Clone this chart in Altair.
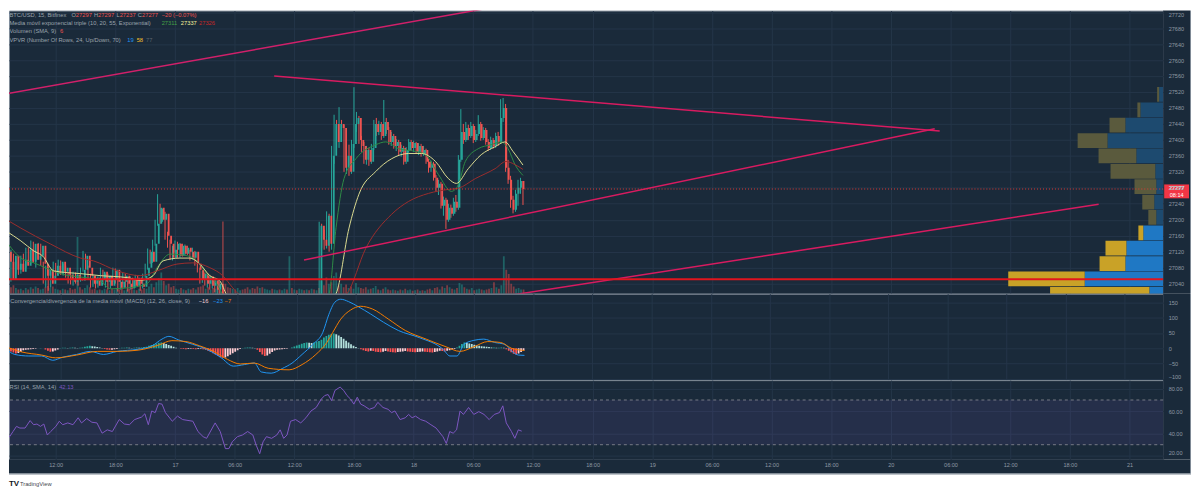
import altair as alt
import pandas as pd
import numpy as np

# ---------------------------------------------------------------- data
BASE = "2023-05-16T00:00:00Z"
CANDLE_START = "2023-05-16T07:00:00Z"   # 15-minute candles
FIRST_OPEN = 27120

close = [27095, 27050, 27110, 27075, 27090, 27070, 27100, 27085, 27125, 27095,
         27140, 27100, 27110, 27135, 27090, 27060, 27075, 27040, 27060, 27085,
         27065, 27095, 27070, 27080, 27062, 27050, 27045, 27062, 27050, 27048,
         27075, 27110, 27080, 27060, 27040, 27055, 27035, 27050, 27070, 27045,
         27060, 27035, 27050, 27075, 27045, 27030, 27045, 27060, 27040, 27028,
         27050, 27035, 27055, 27040, 27032, 27060, 27080, 27120, 27095, 27140,
         27190, 27230, 27200, 27215, 27160, 27140, 27105, 27125, 27140, 27110,
         27135, 27115, 27130, 27120, 27105, 27120, 27090, 27075, 27050, 27065,
         27040, 27058, 27035, 27048, 27025, 27040, 26995, 26975, 26960, 26940,
         26955, 26930, 26945, 26960, 26950, 26935, 26915, 26930, 26920, 26905,
         26890, 26900, 26880, 26895, 26915, 26925, 26918, 26935, 26945, 26930,
         26950, 26958, 26945, 26965, 26955, 26975, 26960, 26970, 26985, 26975,
         26990, 26980, 26995, 26985, 26992, 26990, 27185, 27150, 27135, 27210,
         27140, 27360, 27440, 27395, 27440, 27430, 27330, 27360, 27320, 27390,
         27440, 27455, 27400, 27385, 27350, 27375, 27345, 27380, 27440, 27420,
         27440, 27410, 27445, 27425, 27395, 27410, 27385, 27395, 27370, 27380,
         27345, 27375, 27395, 27380, 27392, 27370, 27385, 27365, 27375, 27345,
         27330, 27340, 27305, 27280, 27290, 27235, 27250, 27200, 27230, 27215,
         27245, 27230, 27350, 27420, 27400, 27430, 27410, 27435, 27400, 27415,
         27440, 27405, 27425, 27395, 27380, 27400, 27385, 27410, 27395, 27455,
         27480, 27330, 27300, 27250, 27225, 27265, 27280, 27297, 27277]
high = [27130, 27100, 27125, 27115, 27100, 27095, 27110, 27115, 27130, 27130,
        27148, 27145, 27120, 27142, 27140, 27095, 27085, 27080, 27070, 27095,
        27092, 27100, 27098, 27090, 27085, 27068, 27065, 27070, 27068, 27062,
        27080, 27122, 27115, 27085, 27065, 27062, 27060, 27058, 27080, 27075,
        27065, 27065, 27060, 27080, 27078, 27050, 27052, 27068, 27065, 27048,
        27058, 27055, 27062, 27060, 27048, 27065, 27090, 27128, 27125, 27150,
        27200, 27264, 27240, 27228, 27220, 27170, 27150, 27135, 27148, 27145,
        27142, 27140, 27138, 27135, 27125, 27130, 27122, 27095, 27080, 27072,
        27068, 27065, 27062, 27055, 27050, 27048, 27045, 27000, 26985, 26965,
        26962, 26958, 26952, 26968, 26965, 26955, 26940, 26938, 26935, 26925,
        26910, 26908, 26905, 26902, 26922, 26935, 26930, 26945, 26955, 26950,
        26958, 26965, 26962, 26972, 26970, 26982, 26980, 26978, 26992, 26990,
        26998, 26995, 27002, 27000, 27002, 27000, 27195, 27190, 27175, 27221,
        27215, 27385, 27463, 27450, 27482, 27450, 27438, 27375, 27388, 27400,
        27532, 27470, 27460, 27410, 27395, 27385, 27380, 27390, 27450, 27455,
        27448, 27445, 27500, 27455, 27432, 27420, 27415, 27402, 27400, 27388,
        27385, 27382, 27402, 27400, 27398, 27395, 27392, 27390, 27385, 27378,
        27352, 27348, 27345, 27312, 27300, 27295, 27258, 27255, 27240, 27238,
        27255, 27262, 27362, 27477, 27440, 27445, 27438, 27445, 27440, 27425,
        27462, 27445, 27432, 27430, 27402, 27408, 27405, 27418, 27420, 27502,
        27505, 27490, 27350, 27310, 27260, 27275, 27300, 27305, 27297]
low = [27080, 27040, 27045, 27060, 27065, 27062, 27065, 27078, 27080, 27088,
       27090, 27092, 27080, 27100, 27085, 27040, 27030, 27022, 27030, 27050,
       27058, 27060, 27062, 27060, 27055, 27040, 27038, 27035, 27040, 27035,
       27045, 27070, 27075, 27050, 27030, 27032, 27028, 27030, 27045, 27038,
       27030, 27025, 27028, 27045, 27040, 27020, 27025, 27040, 27030, 27020,
       27025, 27028, 27030, 27032, 27022, 27028, 27055, 27075, 27090, 27092,
       27135, 27185, 27190, 27195, 27150, 27130, 27100, 27098, 27118, 27105,
       27105, 27108, 27110, 27112, 27098, 27100, 27085, 27068, 27040, 27042,
       27035, 27030, 27025, 27028, 27018, 27010, 26985, 26960, 26950, 26930,
       26935, 26920, 26925, 26940, 26942, 26925, 26905, 26910, 26912, 26895,
       26880, 26885, 26870, 26875, 26890, 26910, 26905, 26912, 26928, 26925,
       26925, 26940, 26938, 26940, 26948, 26950, 26952, 26955, 26962, 26968,
       26970, 26972, 26975, 26978, 26980, 26975, 26985, 27130, 27125, 27128,
       27120, 27125, 27340, 27380, 27380, 27395, 27320, 27315, 27310, 27315,
       27380, 27420, 27390, 27370, 27340, 27338, 27335, 27340, 27375, 27410,
       27412, 27400, 27405, 27415, 27388, 27385, 27378, 27372, 27362, 27358,
       27338, 27340, 27368, 27372, 27370, 27365, 27362, 27358, 27360, 27340,
       27318, 27320, 27298, 27270, 27262, 27228, 27210, 27177, 27195, 27205,
       27210, 27220, 27225, 27345, 27390, 27395, 27400, 27405, 27392, 27395,
       27410, 27398, 27400, 27388, 27372, 27375, 27378, 27380, 27385, 27390,
       27445, 27320, 27290, 27230, 27216, 27220, 27235, 27265, 27237]
volume = [9, 12, 8, 6, 7, 5, 8, 6, 9, 7,
          10, 8, 6, 7, 9, 11, 8, 10, 7, 6,
          5, 7, 6, 5, 8, 6, 7, 80, 9, 6,
          8, 12, 9, 6, 7, 5, 6, 5, 7, 6,
          5, 7, 6, 8, 6, 9, 5, 6, 7, 8,
          6, 5, 7, 6, 8, 7, 10, 14, 9, 16,
          22, 30, 18, 12, 14, 9, 11, 7, 6, 8,
          6, 5, 7, 6, 8, 6, 9, 10, 12, 7,
          9, 6, 8, 7, 10, 12, 102, 14, 9, 8,
          7, 6, 8, 5, 6, 7, 9, 6, 8, 7,
          10, 8, 9, 7, 6, 5, 7, 6, 5, 6,
          5, 7, 6, 53, 8, 6, 5, 7, 6, 5,
          6, 5, 7, 6, 5, 8, 18, 12, 23, 14,
          16, 25, 30, 12, 14, 9, 13, 8, 10, 7,
          15, 9, 8, 7, 9, 6, 7, 8, 11, 6,
          5, 7, 9, 6, 5, 6, 5, 4, 6, 5,
          7, 5, 6, 4, 5, 6, 4, 5, 4, 6,
          7, 5, 8, 9, 6, 10, 8, 12, 9, 7,
          6, 8, 15, 13, 9, 7, 6, 8, 5, 6,
          7, 6, 5, 6, 7, 8, 16, 9, 7, 12,
          53, 34, 28, 14, 10, 7, 8, 6, 6]
macd_hist = [-10, -14, -17, -15, -12, -6, -5, -4, -3, -2,
             -1, 0, 1, 0, -4, -8, -11, -10, -7, -4,
             1, 2, 2, 1, 2, 3, 2, 1, 2, 3,
             5, 7, 8, 7, 6, 4, 3, 1, -2, -4,
             -5, -5, -3, -2, 1, 2, 2, 3, 2, 1,
             2, 3, 2, 3, 4, 5, 8, 11, 13, 16,
             18, 19, 17, 14, 11, 8, 5, 2, 0, -1,
             -2, -3, -2, -1, -2, -3, -2, -1, -3, -5,
             -8, -12, -16, -20, -25, -29, -31, -30, -26, -21,
             -16, -11, -6, -2, 1, 2, 3, 3, 2, 1,
             -5, -12, -20, -25, -23, -18, -12, -7, -5, -4,
             -3, -2, -1, 0, 3, 6, 9, 12, 15, 17,
             19, 18, 17, 19, 22, 24, 28, 35, 40, 44,
             47, 48, 46, 42, 37, 31, 25, 19, 13, 8,
             4, 1, -3, -6, -9, -10, -8, -9, -11, -12,
             -13, -11, -9, -10, -12, -13, -14, -12, -11, -10,
             -9, -10, -11, -12, -13, -12, -11, -10, -11, -12,
             -13, -14, -12, -10, -8, -9, -10, -8, -6, -4,
             -2, 3, 8, 14, 19, 18, 16, 14, 12, 10,
             8, 7, 6, 5, 4, 3, 3, 2, 2, 3,
             2, -3, -8, -13, -18, -20, -17, -12, -7]

# moving averages (hours after 16 May 00:00, price)
ema10_h = [7.0, 8.5, 9.8, 12.5, 16.5, 17.5, 19.5, 21.2, 22.2, 23.5, 25.2, 26.2, 27.2, 28.2, 28.8,
           30.5, 33.5, 36.5, 38.5, 39.5, 40.2, 41.0, 42.2, 44.2, 45.2, 46.5, 48.2, 49.2, 50.5,
           51.8, 52.5, 53.2, 54.5, 55.8, 56.8, 57.5, 58.2, 59.0]
ema10_v = [27147, 27104, 27092, 27065, 27047, 27027, 27030, 27040, 27080, 27114, 27110, 27097, 27065, 27040, 27012,
           26960, 26915, 26950, 26980, 27015, 27180, 27303, 27353, 27388, 27395, 27378, 27371, 27363, 27313,
           27271, 27288, 27346, 27378, 27388, 27395, 27378, 27338, 27311]
ema20_h = [7.0, 8.5, 9.8, 10.7, 11.8, 14.5, 16.5, 19.2, 20.5, 21.8, 22.8, 24.5, 25.5, 26.5, 27.5, 28.5,
           29.2, 31.0, 34.0, 37.0, 39.0, 40.2, 41.5, 42.5, 44.2, 45.8, 47.5, 48.8, 50.2, 51.5, 52.3,
           53.5, 54.8, 56.2, 57.2, 58.0, 59.0]
ema20_v = [27172, 27147, 27122, 27109, 27072, 27065, 27060, 27055, 27048, 27060, 27097, 27104, 27104, 27089, 27060, 27047,
           27012, 26975, 26940, 26955, 26985, 27015, 27179, 27264, 27321, 27353, 27366, 27366, 27346, 27303, 27291,
           27328, 27363, 27383, 27395, 27371, 27337]
ema55_h = [7.0, 8.5, 11.5, 14.5, 15.8, 18.2, 20.5, 22.2, 24.2, 25.8, 27.5, 28.8, 29.8, 30.5, 33.0, 37.0,
           40.0, 41.3, 43.2, 45.8, 47.5, 49.5, 51.5, 52.5, 54.2, 56.2, 57.3, 58.2, 59.0]
ema55_v = [27201, 27179, 27139, 27104, 27097, 27072, 27060, 27072, 27089, 27092, 27080, 27060, 27030, 27012, 26990, 26985,
           26995, 27015, 27129, 27214, 27246, 27266, 27276, 27279, 27303, 27328, 27346, 27338, 27326]

macd_h = [7.0, 7.9, 9.3, 10.6, 11.7, 12.7, 14.1, 15.5, 16.8, 18.19, 20.29, 21.69, 22.69, 23.39, 24.39, 25.79,
          27.18, 28.58, 29.88, 30.98, 31.98, 32.68, 33.68, 34.78, 35.78, 36.78, 37.87, 38.87, 39.47, 40.07,
          40.67, 41.47, 42.47, 43.67, 44.97, 46.47, 48.56, 50.96, 51.66, 52.36, 53.06, 54.06, 55.06, 56.16,
          57.16, 57.86, 58.55, 59.15]
macd_v = [-3, -20, -25, -25, -39, -29, -20, -10, -20, -10, -3, 8, 30, 39, 27, 13,
          -3, -29, -58, -53, -48, -77, -81, -66, -48, -20, 13, 52, 110, 150,
          160, 152, 135, 112, 85, 58, 35, -3, -25, -25, 13, 26, 30, 19,
          13, -9, -22, -23]
signal_h = [7.0, 8.6, 10.6, 12.0, 14.1, 16.2, 18.19, 20.29, 22.39, 23.69, 25.09, 26.49, 27.88, 29.28, 30.58,
            31.98, 33.38, 35.48, 36.78, 38.17, 39.27, 39.87, 40.67, 41.67, 42.67, 43.87, 45.47, 47.17, 49.26,
            51.26, 52.66, 54.06, 55.46, 56.76, 57.86, 59.15]
signal_v = [5, -12, -22, -31, -22, -10, -10, -6, 11, 25, 22, 8, -10, -36, -51,
            -48, -65, -70, -53, -20, 19, 52, 95, 125, 137, 128, 95, 58, 30,
            5, -10, 5, 22, 19, 0, -7]

rsi_h = [7.02, 7.37, 7.71, 8.06, 8.40, 8.92, 9.43, 9.78, 10.12, 10.47, 10.81, 11.16, 11.50, 12.02, 12.36,
         12.71, 13.22, 13.74, 14.26, 14.60, 15.12, 15.64, 16.15, 16.67, 17.19, 17.70, 18.39, 18.91, 19.42,
         19.94, 20.63, 20.97, 21.32, 21.66, 22.01, 22.35, 22.70, 23.04, 23.73, 24.25, 24.77, 25.80, 26.31,
         26.83, 27.18, 28.04, 28.55, 29.07, 29.42, 29.76, 30.28, 30.79, 31.31, 31.83, 32.17, 32.52, 32.86,
         33.20, 33.72, 34.24, 34.58, 34.93, 35.27, 35.62, 36.13, 36.65, 37.17, 37.68, 38.20, 38.72, 39.06,
         39.40, 39.75, 40.09, 40.61, 40.96, 41.30, 41.65, 41.99, 42.33, 42.68, 43.02, 43.54, 44.06, 44.40,
         44.92, 45.43, 45.78, 46.12, 46.64, 47.16, 47.50, 47.85, 48.19, 48.71, 49.22, 49.74, 50.26, 50.95,
         51.29, 51.63, 51.98, 52.32, 52.67, 53.01, 53.53, 54.05, 54.56, 55.08, 55.60, 56.11, 56.63, 56.97,
         57.32, 57.84, 58.18, 58.53, 58.87]
rsi_v = [40.3, 37.2, 41.8, 46.4, 44.9, 44.9, 51.6, 47.9, 48.5, 46.4, 48.5, 38.7, 41.8, 46.4, 51.0,
         47.9, 49.5, 47.9, 54.1, 49.5, 53.4, 50.1, 49.5, 40.3, 43.3, 41.8, 52.5, 48.5, 47.9,
         52.5, 54.7, 57.7, 47.9, 60.2, 58.7, 66.9, 66.3, 58.7, 51.0, 55.6, 52.5, 51.0, 41.8,
         37.2, 35.7, 49.5, 41.8, 26.5, 26.5, 32.6, 37.2, 38.7, 41.8, 38.7, 29.5, 21.9, 32.6,
         37.2, 35.7, 38.7, 43.3, 35.7, 38.7, 51.0, 52.5, 49.5, 54.1, 60.2, 63.3, 70.9, 74.0,
         74.9, 69.4, 78.6, 81.6, 78.6, 74.0, 70.9, 66.3, 72.5, 66.3, 64.8, 61.7, 63.3, 67.9,
         63.3, 61.7, 58.7, 60.2, 52.5, 54.1, 57.1, 54.1, 55.6, 52.5, 51.0, 47.9, 44.9, 37.2,
         31.1, 41.8, 40.3, 43.3, 60.2, 57.1, 63.3, 57.1, 59.6, 57.1, 52.5, 57.1, 58.7, 64.8,
         49.5, 41.8, 35.7, 43.3, 42.13]

# visible volume profile rows (price of row bottom, up volume, down volume)
vp_row_low = [26994, 27032.5, 27071, 27109.5, 27148, 27186.5, 27225, 27263.5, 27302, 27340.5,
              27379, 27417.5, 27456, 27494.5]
vp_row_size = 38.5
vp_up = [9.6, 54.4, 26.2, 25.5, 13.8, 4.8, 6.2, 4.8, 5.5, 18.6, 38.6, 26.2, 15.8, 2.8]
vp_down = [68.8, 53.0, 17.9, 14.5, 3.4, 5.5, 8.3, 15.1, 31.0, 26.2, 20.7, 11.0, 2.1, 1.4]
vp_value_area = [1, 1, 1, 1, 1, 0, 0, 0, 0, 0, 0, 0, 0, 0]

# drawings: trend lines (hours after 16 May 00:00, price)
trend_id = ["upper", "upper", "lower", "lower", "channel", "channel", "support", "support"]
trend_h = [33.98, 100.91, 36.98, 100.41, 7.0, 58.45, 56.46, 116.9]
trend_p = [27560, 27422, 27099, 27428, 27515, 27743, 27006, 27239]
hline_price = 27051
last_price = 27277

tick_hours = [12, 18, 24, 30, 36, 42, 48, 54, 60, 66, 72, 78, 84, 90, 96, 102, 108, 114, 120]
price_ticks = [27040, 27080, 27120, 27160, 27200, 27240, 27280, 27320, 27360, 27400, 27440,
               27480, 27520, 27560, 27600, 27640, 27680, 27720]
macd_ticks = [-100, -50, 0, 50, 100, 150]
rsi_ticks = [20, 40, 60, 80]

# ---------------------------------------------------------------- style
FONT = "Liberation Sans"
BG = "#1a2a3a"
GRID = "#243549"
BORDER = "#7f8a96"
OUTER = "#7d8894"
AXT = "#8e99a4"
LEG = "#9aa4ae"
UP = "#26a69a"
DOWN = "#ef5350"
FS = 5.8
W, H1, H2, H3 = 1162, 285, 87, 80
AXW = 27

base_ts = pd.Timestamp(BASE)


def ms(h):
    return int((base_ts + pd.Timedelta(hours=h)).value // 10**6)


def iso(hs):
    return list((base_ts + pd.to_timedelta(np.asarray(hs, dtype=float), unit="h")).strftime("%Y-%m-%dT%H:%M:%SZ"))


T0, T1 = 7.305, 123.39
XS = alt.Scale(type="utc", domain=[ms(T0), ms(T1)])
PS = alt.Scale(domain=[27014.8, 27723.8], nice=False, zero=False)
MS = alt.Scale(domain=[-103.6, 178], nice=False, zero=False)
RS = alt.Scale(domain=[16.7, 87.8], nice=False, zero=False)
tick_ms = [ms(h) for h in tick_hours]

n = len(close)
t = pd.date_range(CANDLE_START, periods=n, freq="15min")
opens = [FIRST_OPEN] + close[:-1]
cdf = pd.DataFrame({"t": t.strftime("%Y-%m-%dT%H:%M:%SZ"), "open": opens, "close": close,
                    "high": high, "low": low, "vol": volume, "hist": macd_hist})
cdf["col"] = np.where(cdf["close"] >= cdf["open"], UP, DOWN)
prev = [0] + macd_hist[:-1]
hcol = []
for hv, pv in zip(macd_hist, prev):
    if hv >= 0:
        hcol.append("#26a69a" if hv >= pv else "#b2dfdb")
    else:
        hcol.append("#ff5252" if hv < pv else "#ffcdd2")
cdf["hcol"] = hcol

ema_df = pd.concat([
    pd.DataFrame({"t": iso(ema10_h), "v": ema10_v, "s": "ema10", "c": "#2e8b47"}),
    pd.DataFrame({"t": iso(ema20_h), "v": ema20_v, "s": "ema20", "c": "#dcdc91"}),
    pd.DataFrame({"t": iso(ema55_h), "v": ema55_v, "s": "ema55", "c": "#9b2d2d"}),
])
macd_df = pd.concat([
    pd.DataFrame({"t": iso(macd_h), "v": macd_v, "s": "macd", "c": "#2196f3"}),
    pd.DataFrame({"t": iso(signal_h), "v": signal_v, "s": "signal", "c": "#f57c00"}),
])
rsi_df = pd.DataFrame({"t": iso(rsi_h), "v": rsi_v})

vp_rows = []
for lo, up, dn, va in zip(vp_row_low, vp_up, vp_down, vp_value_area):
    vp_rows.append({"lo": lo + 0.8, "hi": lo + vp_row_size - 0.8, "a": 0, "b": up,
                    "c": "#1f78c4" if va else "#1d4a6f"})
    vp_rows.append({"lo": lo + 0.8, "hi": lo + vp_row_size - 0.8, "a": up, "b": up + dn,
                    "c": "#c9a227" if va else "#5a5a3d"})
vp_df = pd.DataFrame(vp_rows)

trend_df = pd.DataFrame({"id": trend_id, "t": iso(trend_h), "p": trend_p})
trend_df["c"] = np.where(trend_df["id"] == "channel", "#d1206a", "#d81b60")
hl_df = pd.DataFrame({"t": iso([T0, T1]), "p": [hline_price, hline_price]})
lp_df = pd.DataFrame({"t": iso([T0, T1]), "p": [last_price, last_price]})
band_df = pd.DataFrame({"t": iso([T0]), "t2": iso([T1]), "lo": [30], "hi": [70]})
lvl_df = pd.DataFrame({"v": [70, 30]})

ONE = alt.Data(values=[{"a": 1}])

# ---------------------------------------------------------------- axes
grid_x = alt.Axis(orient="top", values=tick_ms, grid=True, gridColor=GRID, gridWidth=1, labels=False,
                  ticks=False, domain=False, title=None, minExtent=0, maxExtent=0, zindex=0)


def grid_y(vals):
    return alt.Axis(orient="left", values=vals, grid=True, gridColor=GRID, gridWidth=1, labels=False,
                    ticks=False, domain=False, title=None, minExtent=0, maxExtent=0, zindex=0)


def label_y(vals, fmt):
    return alt.Axis(orient="right", values=vals, format=fmt, grid=False, ticks=False, domain=False,
                    labelColor=AXT, labelFontSize=5.6, labelFont=FONT, labelPadding=5, title=None,
                    zindex=1, labelFlush=4, labelOverlap=False, minExtent=0)


label_x = alt.Axis(orient="bottom", values=tick_ms, grid=False, ticks=False, domain=False,
                   labelColor=AXT, labelFontSize=5.6, labelFont=FONT, labelPadding=3, title=None,
                   zindex=1, labelFlush=False, labelOverlap=False,
                   labelExpr="utcFormat(datum.value, '%H:%M') == '00:00' ? utcFormat(datum.value, '%-d') : utcFormat(datum.value, '%H:%M')")


def txt(s, x, y, color, size=FS, weight="normal", align="left"):
    return alt.Chart(ONE).mark_text(text=s, align=align, baseline="middle", fontSize=size, font=FONT,
                                    color=color, fontWeight=weight).encode(x=alt.value(x), y=alt.value(y))


def box(x, x2, y, y2, color):
    return alt.Chart(ONE).mark_rect(color=color).encode(
        x=alt.value(x), x2=alt.value(x2), y=alt.value(y), y2=alt.value(y2))


XT = lambda ax=None: alt.X("t:T", scale=XS, axis=ax)
NOC = lambda f: alt.Color(f, scale=None)

# ---------------------------------------------------------------- main panel
axis_bg1 = box(W, W + AXW, 0, H1, BG)
edge1 = box(W + AXW, W + AXW + 1, 0, H1, OUTER)
vpvr = alt.Chart(vp_df).mark_rect(clip=True).encode(
    x=alt.X("a:Q", scale=alt.Scale(domain=[0, 800], reverse=True), axis=None), x2="b:Q",
    y=alt.Y("lo:Q", scale=PS, axis=None), y2="hi:Q", color=NOC("c:N"))
vol = alt.Chart(cdf).mark_bar(size=1.8, opacity=0.45, clip=True).encode(
    x=XT(), y=alt.Y("vol:Q", scale=alt.Scale(domain=[0, 400]), axis=None), color=NOC("col:N"))
wick = alt.Chart(cdf).mark_rule(strokeWidth=1, clip=True).encode(
    x=XT(grid_x), y=alt.Y("low:Q", scale=PS, axis=grid_y(price_ticks)), y2="high:Q", color=NOC("col:N"))
body = alt.Chart(cdf).mark_bar(size=1.8, clip=True).encode(
    x=XT(), y=alt.Y("open:Q", scale=PS, axis=None), y2="close:Q", color=NOC("col:N"))
emas = alt.Chart(ema_df).mark_line(strokeWidth=1, clip=True, interpolate="monotone").encode(
    x=XT(), y=alt.Y("v:Q", scale=PS, axis=label_y(price_ticks, "d")), detail="s:N", color=NOC("c:N"))
trends = alt.Chart(trend_df).mark_line(strokeWidth=1.5, clip=True).encode(
    x=XT(), y=alt.Y("p:Q", scale=PS, axis=None), detail="id:N", color=NOC("c:N"))
hline = alt.Chart(hl_df).mark_line(strokeWidth=2, color="#e0161e", clip=True).encode(
    x=XT(), y=alt.Y("p:Q", scale=PS, axis=None))
pline = alt.Chart(lp_df).mark_line(strokeWidth=1, color="#e53935", strokeDash=[1, 2], clip=True).encode(
    x=XT(), y=alt.Y("p:Q", scale=PS, axis=None))
plabel = [box(W + 1, W + 26, 175, 189, "#f23645"),
          txt("27277", W + 13.5, 178.8, "#ffffff", 5.6, "bold", "center"),
          txt("08:14", W + 13.5, 185.6, "#ffffff", 5.6, "normal", "center")]
Y1, Y2, Y3, Y4 = 4.3, 12.7, 21, 29.3
legend1 = [
    txt("BTC/USD, 15, Bitfinex", 0.5, Y1, LEG),
    txt("O", 63, Y1, LEG), txt("27297", 67.3, Y1, DOWN),
    txt("H", 85.5, Y1, LEG), txt("27297", 89.7, Y1, DOWN),
    txt("L", 108.2, Y1, LEG), txt("27237", 111.4, Y1, DOWN),
    txt("C", 129.7, Y1, LEG), txt("27277", 133.9, Y1, DOWN),
    txt("\u221220 (\u22120.07%)", 153.7, Y1, DOWN),
    txt("Media m\u00f3vil exponencial triple (10, 20, 55, Exponential)", 0.5, Y2, LEG),
    txt("27311", 153.7, Y2, "#43a047"), txt("27337", 173, Y2, "#f4f29c"),
    txt("27326", 191.3, Y2, "#c62828"),
    txt("Volumen (SMA, 9)", 0.5, Y3, LEG), txt("6", 51.3, Y3, DOWN),
    txt("VPVR (Number Of Rows, 24, Up/Down, 70)", 0.5, Y4, LEG),
    txt("19", 119, Y4, "#2196f3"), txt("58", 128.5, Y4, "#fbc02d"), txt("77", 138, Y4, "#5c6670"),
]
main = alt.layer(axis_bg1, edge1, vol, vpvr, wick, body, emas, trends, hline, pline,
                 *plabel, *legend1).resolve_scale(
    x="independent", y="independent").properties(width=W, height=H1)

# ---------------------------------------------------------------- MACD panel
axis_bg2 = box(W, W + AXW, 0, H2, BG)
edge2 = box(W + AXW, W + AXW + 1, 0, H2, OUTER)
hist = alt.Chart(cdf).mark_bar(size=1.8, clip=True).encode(
    x=XT(grid_x), y=alt.Y("hist:Q", scale=MS, axis=grid_y(macd_ticks)), color=NOC("hcol:N"))
mlines = alt.Chart(macd_df).mark_line(strokeWidth=1, clip=True, interpolate="monotone").encode(
    x=XT(), y=alt.Y("v:Q", scale=MS, axis=label_y(macd_ticks, "d")), detail="s:N", color=NOC("c:N"))
legend2 = [
    txt("Convergencia/divergencia de la media m\u00f3vil (MACD) (12, 26, close, 9)", 1.3, 7, LEG),
    txt("\u221216", 191, 7, "#f3d0d4"), txt("\u221223", 205.5, 7, "#2196f3"),
    txt("\u22127", 217, 7, "#f57c00"),
]
macd = alt.layer(axis_bg2, edge2, hist, mlines, *legend2).resolve_scale(
    x="independent", y="independent").properties(width=W, height=H2)

# ---------------------------------------------------------------- RSI panel
axis_bg3 = box(W, W + AXW, 0, H3, BG)
strip_bg = box(0, W + AXW, H3, H3 + 14, BG)
edge3 = box(W + AXW, W + AXW + 1, 0, H3 + 14, OUTER)
edge4 = box(0, W + AXW + 1, H3 + 14, H3 + 15, OUTER)
band = alt.Chart(band_df).mark_rect(color="#7e57c2", opacity=0.12, clip=True).encode(
    x=XT(grid_x), x2="t2:T", y=alt.Y("lo:Q", scale=RS, axis=grid_y(rsi_ticks)), y2="hi:Q")
levels = alt.Chart(lvl_df).mark_rule(color="#787b86", strokeDash=[3, 3], strokeWidth=1).encode(
    y=alt.Y("v:Q", scale=RS, axis=None))
rsi_line = alt.Chart(rsi_df).mark_line(strokeWidth=1, color="#7e57c2", clip=True).encode(
    x=XT(label_x), y=alt.Y("v:Q", scale=RS, axis=label_y(rsi_ticks, ".2f")))
legend3 = [
    txt("RSI (14, SMA, 14)", 0.5, 7, LEG), txt("42.13", 50.5, 7, "#7e57c2"),
    txt("TV", 0, 104.5, "#131722", 8, "bold"), txt("TradingView", 11, 104.5, "#434651", 5.8),
]
rsi = alt.layer(axis_bg3, strip_bg, edge3, edge4, band, levels, rsi_line, *legend3).resolve_scale(
    x="independent", y="independent").properties(width=W, height=H3)

chart = alt.vconcat(main, macd, rsi, spacing=0, bounds="flush").properties(
    background="#ffffff", padding=0
).configure_view(fill=BG, stroke=BORDER, strokeWidth=1)

chart.save("out.html", embed_options={"renderer": "svg", "actions": False})
